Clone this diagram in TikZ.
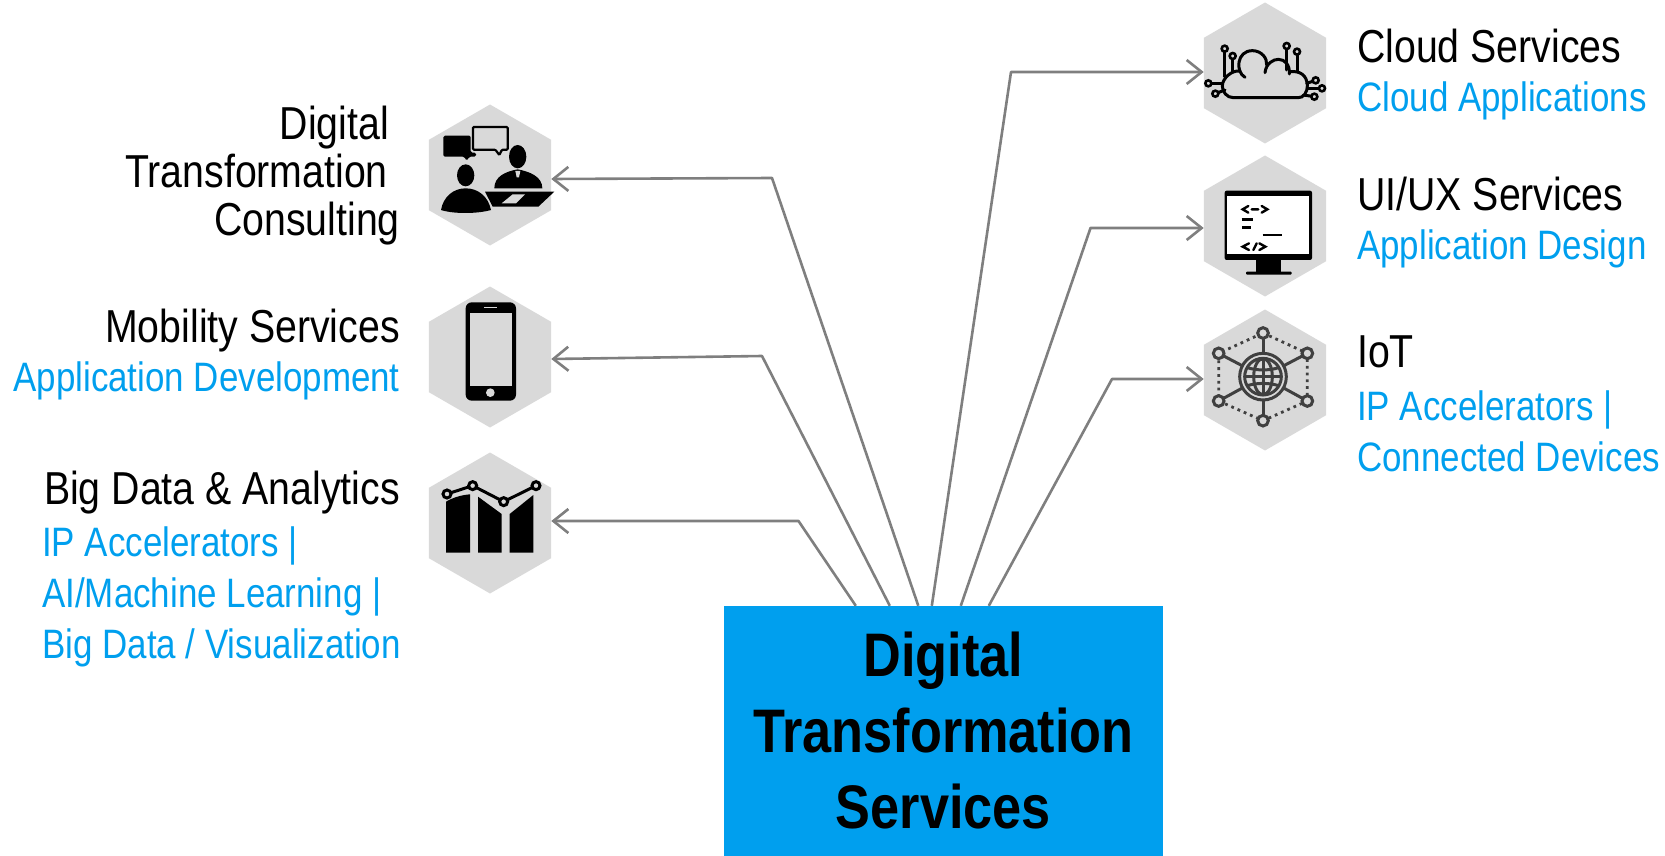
\documentclass[tikz,border=0pt]{standalone}
\usepackage{fontspec}
\setmainfont{Liberation Sans}[FakeStretch=0.85]
\usetikzlibrary{shapes.geometric,arrows.meta,calc}
\definecolor{hexgray}{HTML}{D9D9D9}
\definecolor{linegray}{HTML}{7F7F7F}
\definecolor{accent}{HTML}{009FEE}
\definecolor{icondark}{HTML}{404040}
\tikzset{
  hexnode/.style={regular polygon,regular polygon sides=6,shape border rotate=90,minimum size=141pt,inner sep=0pt,fill=hexgray},
  conn/.style={draw=linegray,line width=2.6pt,-{Straight Barb[length=15pt,width=24pt,line width=2.6pt]},line join=round},
  title/.style={inner sep=0pt,font=\fontsize{46.2}{51}\selectfont,text=black},
  sub/.style={inner sep=0pt,font=\fontsize{41.1}{51}\selectfont,text=accent},
  mainbox/.style={fill=accent,minimum width=439pt,minimum height=250pt,inner sep=0pt,align=center,text=black,font=\fontsize{61.5}{76.5}\selectfont\bfseries},
  ic/.style={line width=3pt,draw=black},
  dots/.style={line width=2.8pt,draw=icondark,dash pattern=on 2.8pt off 4pt}
}
\begin{document}
\begin{tikzpicture}[x=1pt,y=-1pt]
\useasboundingbox (0,0) rectangle (1665,856);
% hexagons
\node[hexnode] (hconsult) at (490,175) {};
\node[hexnode] (hmobile) at (490,357) {};
\node[hexnode] (hdata) at (490,523) {};
\node[hexnode] (hcloud) at (1265,73) {};
\node[hexnode] (hui) at (1265,226) {};
\node[hexnode] (hiot) at (1265,380) {};
% main box
\node[mainbox] (main) at (943.5,731) {\raisebox{-1pt}{Digital}\\Transformation\\Services};
% bends
\coordinate (b1) at (772,178);
\coordinate (b2) at (762,356);
\coordinate (b3) at (798.5,521);
\coordinate (b4) at (1011,72);
\coordinate (b5) at (1090.5,228);
\coordinate (b6) at (1112,379);
% connectors
\draw[conn] ([xshift=194.5pt]main.north west) -- (b1) -- ([yshift=-4pt]hconsult.east);
\draw[conn] ([xshift=166pt]main.north west) -- (b2) -- ([yshift=-2pt]hmobile.east);
\draw[conn] ([xshift=132pt]main.north west) -- (b3) -- ([yshift=2pt]hdata.east);
\draw[conn] ([xshift=208pt]main.north west) -- (b4) -- ([yshift=1pt]hcloud.west);
\draw[conn] ([xshift=237pt]main.north west) -- (b5) -- ([yshift=-2pt]hui.west);
\draw[conn] ([xshift=265pt]main.north west) -- (b6) -- ([yshift=1pt]hiot.west);
% labels left
\node[title,anchor=north east,align=right,font=\fontsize{46.2}{48}\selectfont] (lconsult) at (400,106) {\strut Digital\rule{11pt}{0pt}\\Transformation\rule{12pt}{0pt}\\Consulting};
\node[title,anchor=base east] (lmobile) at (400,342) {Mobility Services};
\node[sub,anchor=base east] (lmobilesub) at (400,391.5) {Application Development};
\node[title,anchor=base east] (ldata) at (400,504) {Big Data \& Analytics};
\node[sub,anchor=north west,align=left] (ldatasub) at (42,521) {\strut IP Accelerators |\\AI/Machine Learning |\\Big Data / Visualization};
% labels right
\node[title,anchor=base west] (lcloud) at (1357,62.5) {Cloud Services};
\node[sub,anchor=base west] (lcloudsub) at (1357,111.5) {Cloud Applications};
\node[title,anchor=base west] (lui) at (1357,210) {UI/UX Services};
\node[sub,anchor=base west] (luisub) at (1357,259.5) {Application Design};
\node[title,anchor=base west] (liot) at (1357,367) {IoT};
\node[sub,anchor=north west,align=left] (liotsub) at (1357,385) {\strut IP Accelerators |\\Connected Devices};
% icon: consulting
\begin{scope}[shift={(410,90)},scale=1/3]
  \fill[rounded corners=1.5pt] (100,137) -- (182,137) -- (182,188) -- (198,188) -- (198,200) -- (178,200) -- (170,213) -- (163,200) -- (100,200) -- cycle;
  \draw[line width=2.2pt,rounded corners=1pt] (189,111) -- (293,111) -- (293,179) -- (276,179) -- (268,195) -- (256,179) -- (189,179) -- cycle;
  \fill (167,256) ellipse [x radius=26,y radius=33];
  \fill (93,360) .. controls (100,320) and (130,295) .. (167,295) .. controls (205,295) and (235,320) .. (243,360) .. controls (200,372) and (130,372) .. (93,360) -- cycle;
  \fill (323,200) ellipse [x radius=26,y radius=35];
  \fill (253,295) .. controls (253,260) and (285,245) .. (323,238) .. controls (360,245) and (397,260) .. (397,295) -- cycle;
  \fill[hexgray] (316,243) -- (331,243) -- (327,262) -- (320,262) -- cycle;
  \fill (225,305) -- (433,305) -- (385,350) -- (248,350) -- cycle;
  \fill[hexgray] (308,313) -- (345,313) -- (318,340) -- (275,340) -- cycle;
\end{scope}
% icon: phone
\begin{scope}[shift={(410,280)},scale=1/3]
  \fill[rounded corners=6pt] (167,67) rectangle (318,362);
  \fill[hexgray] (181,98) rectangle (305,317);
  \draw[hexgray,line width=1.4pt] (222,82) -- (262,82);
  \fill[hexgray] (241,338) circle (13);
\end{scope}
% icon: data chart
\begin{scope}[shift={(410,280)},scale=1/3]
  \fill (108,818) -- (108,665) .. controls (130,652) and (155,645) .. (180,643) -- (180,818) -- cycle;
  \fill (204,818) -- (204,650) -- (275,702) -- (275,818) -- cycle;
  \fill (299,818) -- (299,702) -- (370,645) -- (370,818) -- cycle;
  \draw[hexgray,line width=7pt] (111,642) -- (188,617) -- (281,665) -- (378,617);
  \draw[line width=3pt] (111,642) -- (188,617) -- (281,665) -- (378,617);
  \foreach \p in {(111,642),(188,617),(281,665),(378,617)}
    \draw[line width=3pt,fill=hexgray] \p circle (12);
\end{scope}
% icon: cloud
\begin{scope}[shift={(1190,0)},scale=1/3,line cap=round]
  \draw[ic] (165,232) .. controls (135,215) and (140,152) .. (187,152) .. controls (215,152) and (232,175) .. (230,195);
  \draw[ic] (225,218) .. controls (228,190) and (250,178) .. (265,178) .. controls (285,178) and (300,195) .. (298,222);
  \draw[ic] (300,215) .. controls (330,212) and (350,225) .. (352,255) .. controls (352,280) and (340,293) .. (325,293) -- (130,293) .. controls (110,293) and (97,275) .. (97,258) .. controls (97,235) and (125,210) .. (150,213);
  \foreach \a/\b/\c/\d in {104/146/104/230,128/168/128/215,290/138/290/210,321/155/321/212,55/250/97/250,76/281/105/270,377/241/350/250,396/265/352/265,373/290/340/285}{
    \draw[ic] (\a,\b) -- (\c,\d);
    \draw[ic,line width=2.6pt,fill=hexgray] (\a,\b) circle (9);
  }
\end{scope}
% icon: monitor
\begin{scope}[shift={(1190,150)},scale=1/3,line cap=round]
  \fill[rounded corners=2pt] (104,122) rectangle (366,330);
  \fill[white] (112,138) rectangle (358,312);
  \fill (198,330) rectangle (272,366);
  \fill[rounded corners=1pt] (168,365) rectangle (305,374);
  \draw[line width=2.4pt] (175,168) -- (158,178) -- (175,188) (185,178) -- (205,178) (215,168) -- (232,178) -- (215,188);
  \draw[line width=2.6pt,line cap=butt] (155,209) -- (190,209) (157,232) -- (182,232);
  \draw[line width=2pt,line cap=butt] (218,256) -- (275,256);
  \draw[line width=2.4pt] (177,280) -- (158,290) -- (177,300) (190,300) -- (200,280) (208,280) -- (226,290) -- (208,300);
\end{scope}
% icon: iot
\begin{scope}[shift={(1190,300)},scale=1/3,draw=icondark,line width=3pt]
  \draw[dots] (219,99) -- (352,160) -- (352,303) -- (219,362) -- (86,303) -- (86,160) -- cycle;
  \foreach \x/\y in {219/99,352/160,352/303,219/362,86/303,86/160}{
    \draw (219,230) -- (\x,\y);
    \draw[fill=hexgray] (\x,\y) circle (16);
  }
  \draw[fill=hexgray] (219,230) circle (70);
  \draw (219,230) circle (55);
  \draw (219,230) ellipse [x radius=28,y radius=54];
  \draw (219,176) -- (219,284) (165,230) -- (273,230);
  \draw (172,203) .. controls (200,212) and (238,212) .. (266,203);
  \draw (172,257) .. controls (200,248) and (238,248) .. (266,257);
\end{scope}
\end{tikzpicture}
\end{document}
